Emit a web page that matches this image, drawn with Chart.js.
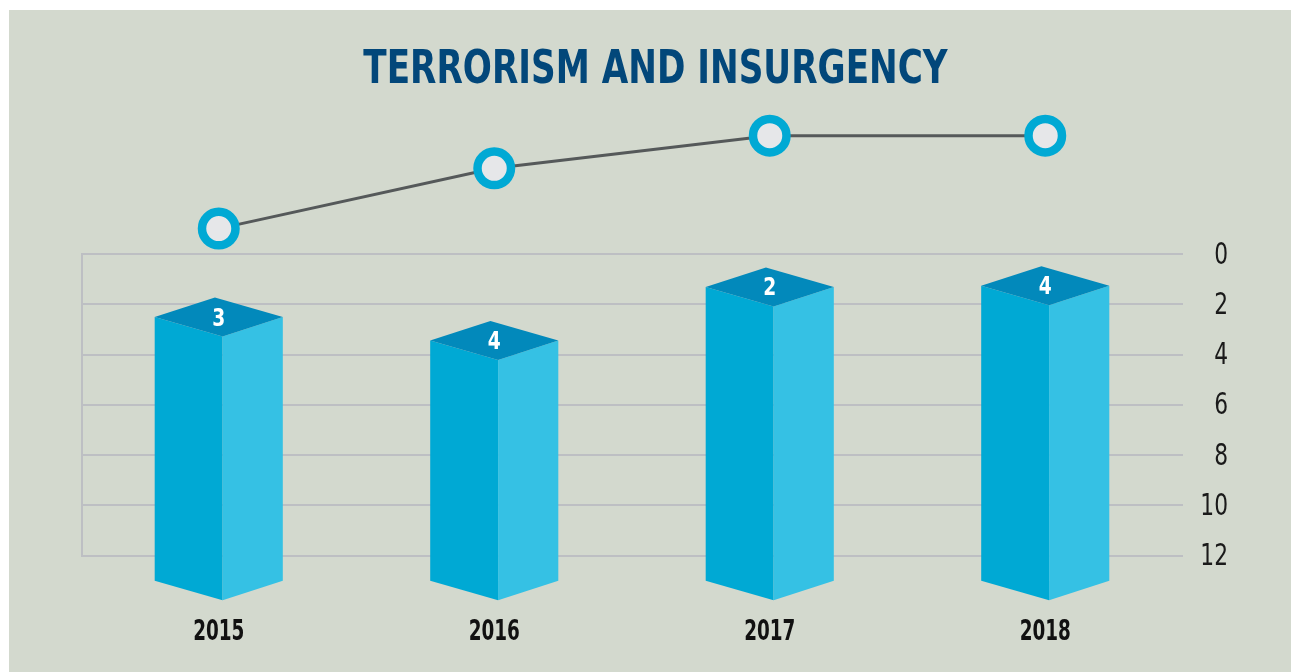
<!DOCTYPE html>
<html>
<head>
<meta charset="utf-8">
<title>Terrorism and Insurgency</title>
<script src="https://cdn.jsdelivr.net/npm/chart.js@4.4.1/dist/chart.umd.min.js"></script>
<style>
  html, body { margin: 0; padding: 0; background: #ffffff; }
  body { width: 1291px; height: 672px; position: relative; overflow: hidden; }
  #panel { position: absolute; left: 9px; top: 10px; right: 0; bottom: 0; background: #d3d9ce; }
  #chart { position: absolute; left: 0; top: 0; }
</style>
</head>
<body>
<div id="panel"></div>
<canvas id="chart" width="1291" height="672"></canvas>
<script>
// data
const years = ['2015', '2016', '2017', '2018'];
const barValues = [3, 4, 2, 4];            // numbers printed on the bar tops
const barTops = [2.5, 3.43, 1.3, 1.25];    // bar top on the reversed 0-12 scale
const barBase = 13;
const trendValues = [1.02, 3.42, 4.72, 4.72]; // line above the grid (units above the 0 line)
const yTicks = [0, 2, 4, 6, 8, 10, 12];
const titleText = 'TERRORISM AND INSURGENCY';

// no narrow face installed, so condensed text is squeezed a bit more by hand
const FONT = "'DejaVu Sans Condensed', 'DejaVu Sans', sans-serif";
const yMin = -5.9, yMax = 14.0;

function squeezedText(ctx, text, x, y, sx, align) {
    ctx.save();
    ctx.translate(x, y);
    ctx.scale(sx, 1);
    ctx.textAlign = align;
    ctx.textBaseline = 'alphabetic';
    ctx.fillText(text, 0, 0);
    ctx.restore();
}

// draws the 3D prisms, the left rule of the grid and all the text
const prismPlugin = {
    id: 'prism',
    beforeDatasetsDraw(chart) {
        const ctx = chart.ctx;
        const y = chart.scales.y;
        const left = chart.chartArea.left;
        ctx.save();
        ctx.strokeStyle = '#bdbfc3';
        ctx.lineWidth = 2;
        ctx.beginPath();
        ctx.moveTo(left + 1, y.getPixelForValue(0) - 1);
        ctx.lineTo(left + 1, y.getPixelForValue(12) + 1);
        ctx.stroke();
        ctx.restore();
    },
    afterDatasetDraw(chart, args) {
        if (args.index !== 0) return;
        const ctx = chart.ctx;
        const meta = chart.getDatasetMeta(0);
        ctx.save();
        meta.data.forEach((bar, i) => {
            const p = bar.getProps(['x', 'y', 'base', 'width'], true);
            const top = Math.min(p.y, p.base);
            const bot = Math.max(p.y, p.base);
            const w = p.width;
            const L = p.x - w / 2, R = p.x + w / 2;
            const F = p.x + 0.03 * w, B = p.x - 0.03 * w;
            const d = 19.5;

            ctx.fillStyle = '#00a9d4';
            ctx.beginPath();
            ctx.moveTo(L, top); ctx.lineTo(F, top + d); ctx.lineTo(F, bot + d); ctx.lineTo(L, bot);
            ctx.closePath(); ctx.fill();

            ctx.fillStyle = '#35c1e4';
            ctx.beginPath();
            ctx.moveTo(F, top + d); ctx.lineTo(R, top); ctx.lineTo(R, bot); ctx.lineTo(F, bot + d);
            ctx.closePath(); ctx.fill();

            ctx.fillStyle = '#0289bb';
            ctx.beginPath();
            ctx.moveTo(L, top); ctx.lineTo(B, top - d); ctx.lineTo(R, top); ctx.lineTo(F, top + d);
            ctx.closePath(); ctx.fill();

            ctx.fillStyle = '#ffffff';
            ctx.font = 'bold 25px ' + FONT;
            squeezedText(ctx, String(barValues[i]), p.x, top + 8.5, 0.83, 'center');
        });
        ctx.restore();
    },
    afterDraw(chart) {
        const ctx = chart.ctx;
        const xs = chart.scales.x, ys = chart.scales.y;
        ctx.save();
        // title
        ctx.fillStyle = '#02477a';
        ctx.font = 'bold 47px ' + FONT;
        squeezedText(ctx, titleText, 655.5, 83, 0.81, 'center');
        // category labels
        ctx.fillStyle = '#111111';
        ctx.font = 'bold 28px ' + FONT;
        chart.data.labels.forEach((lab, i) => {
            squeezedText(ctx, lab, xs.getPixelForTick(i), 640, 0.73, 'center');
        });
        // value axis labels, right aligned
        ctx.fillStyle = '#1a1a1a';
        ctx.font = '31px ' + FONT;
        ys.ticks.forEach(t => {
            squeezedText(ctx, String(t.value), 1228, ys.getPixelForValue(t.value) + 9.5, 0.78, 'right');
        });
        ctx.restore();
    }
};

const ctx = document.getElementById('chart').getContext('2d');
new Chart(ctx, {
    data: {
        labels: years,
        datasets: [
            {
                type: 'bar',
                data: barTops.map(t => [t, barBase]),
                yAxisID: 'y',
                backgroundColor: 'rgba(0,0,0,0)',
                borderWidth: 0,
                categoryPercentage: 1,
                barPercentage: 0.465,
                order: 2
            },
            {
                type: 'line',
                data: trendValues,
                yAxisID: 'yTrend',
                borderColor: '#55595a',
                borderWidth: 3,
                pointRadius: 16.75,
                pointBorderWidth: 8.5,
                pointBackgroundColor: '#e6e7e9',
                pointBorderColor: '#00a9d4',
                tension: 0,
                clip: false,
                order: 1
            }
        ]
    },
    options: {
        responsive: false,
        devicePixelRatio: 1,
        animation: false,
        layout: { padding: { top: 106, left: 81, right: 108, bottom: 66 } },
        plugins: {
            legend: { display: false },
            tooltip: { enabled: false },
            title: { display: false }
        },
        scales: {
            x: {
                grid: { display: false, drawTicks: false },
                border: { display: false },
                ticks: { display: false }
            },
            y: {
                position: 'right',
                reverse: true,
                min: yMin,
                max: yMax,
                afterBuildTicks: scale => { scale.ticks = yTicks.map(v => ({ value: v })); },
                grid: { color: '#bdbfc3', lineWidth: 2, drawTicks: false },
                border: { display: false },
                ticks: { display: false }
            },
            yTrend: {
                display: false,
                min: -yMax,
                max: -yMin
            }
        }
    },
    plugins: [prismPlugin]
});
</script>
</body>
</html>
